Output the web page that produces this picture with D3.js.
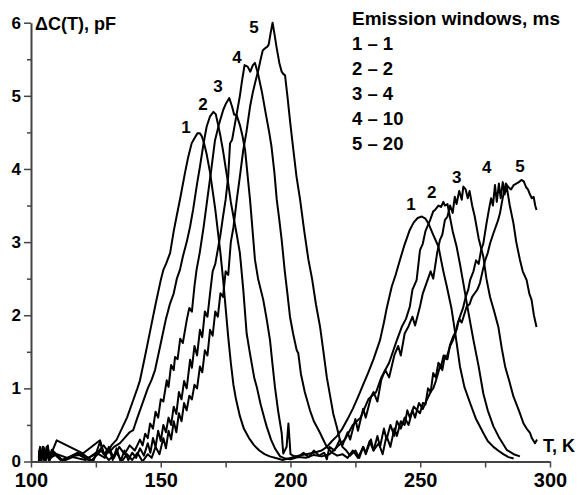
<!DOCTYPE html>
<html><head><meta charset="utf-8">
<script src="https://cdn.jsdelivr.net/npm/d3@7/dist/d3.min.js"></script>
<style>
body{margin:0;background:#fff;}
text{font-family:"Liberation Sans",Arial,sans-serif;font-weight:bold;fill:#000;}
</style></head>
<body>
<svg id="c" width="583" height="495"></svg>
<script>
// ---- data ----
const xTicksMajor = [100, 150, 200, 250, 300];
const xTicksMinor = [125, 175, 225, 275];
const yTicksMajor = [0, 1, 2, 3, 4, 5, 6];
const yTicksMinor = [0.5, 1.5, 2.5, 3.5, 4.5, 5.5];
const seriesNames = ["1", "2", "3", "4", "5"];
const legendTitle = "Emission windows, ms";
const legendRows = ["1 \u2013 1", "2 \u2013 2", "3 \u2013 4", "4 \u2013 10", "5 \u2013 20"];

const curve1 = [[103,0.05],[103.5,0.2],[104,0.02],[105,0.18],[105.5,0.03],[106.5,0.22],[107,0.05],[108,0.12],[109.9,0.29],[120,0.11],[126.6,0.29],[128,0.12],[129,0.1],[131,0.22],[133,0.3],[135,0.45],[137,0.6],[139,0.8],[141,1.0],[142,1.11],[144,1.45],[146,1.8],[148,2.15],[150,2.48],[151,2.62],[152,2.7],[153.6,2.85],[155,3.15],[156.1,3.35],[157.5,3.6],[159.3,3.94],[160.5,4.15],[161.9,4.35],[163,4.42],[164.2,4.49],[165,4.49],[165.8,4.45],[166.7,4.35],[167.7,4.2],[169,3.95],[170,3.7],[171,3.45],[172,3.15],[173,2.85],[174,2.5],[175,2.1],[176,1.7],[177,1.35],[178,1.05],[179,0.85],[180.5,0.62],[182,0.45],[184,0.32],[186,0.22],[188,0.15],[190,0.1],[192,0.07],[195,0.04],[197,0.02],[200,0.05],[203,0.08],[206,0.1],[209,0.12],[212,0.15],[214,0.2],[216,0.28],[218,0.35],[220,0.45],[222,0.58],[224,0.72],[226,0.88],[228,1.05],[230,1.22],[232,1.4],[234.5,1.66],[236,1.9],[237.1,2.1],[239,2.39],[240.5,2.55],[242.2,2.76],[244,2.97],[246,3.17],[247.5,3.27],[249,3.33],[250.6,3.35],[252,3.32],[253.1,3.26],[255,3.1],[257,2.94],[258.9,2.6],[260.2,2.4],[262,2.1],[263.5,1.75],[265.3,1.3],[267,1.02],[269.2,0.8],[271.5,0.58],[274.3,0.39],[276,0.28],[278.2,0.2],[280,0.15],[282,0.1],[284,0.06],[286,0.04]];

const curve2 = [[103,0.1],[104,0.0],[104.5,0.15],[105.5,0.02],[106.5,0.18],[107.5,0.05],[110,0.1],[114,0.05],[118,0.12],[122,0.05],[125,0.1],[128,0.22],[130,0.12],[132,0.2],[134.3,0.25],[136,0.32],[138,0.4],[139.4,0.43],[141,0.6],[142,0.7],[143.5,0.85],[145,1.0],[146.5,1.12],[147.8,1.25],[149,1.45],[150.5,1.7],[152,1.95],[153.5,2.15],[155,2.3],[156.2,2.5],[157.4,2.62],[158.5,2.8],[160,3.0],[161.3,3.21],[162.5,3.45],[164,3.8],[165.1,4.03],[166.5,4.35],[167.7,4.58],[169,4.72],[170.3,4.78],[171.2,4.75],[172,4.62],[173,4.45],[174,4.25],[175,4.02],[176,3.8],[177,3.55],[178,3.35],[179.3,3.1],[180.5,2.85],[181.8,2.35],[183.1,1.75],[184.5,1.45],[186,1.15],[187,1.02],[188.5,0.78],[190,0.58],[190.8,0.48],[192.5,0.3],[194,0.18],[196,0.07],[198,0.04],[200,0.03],[203,0.06],[206,0.05],[209,0.09],[212,0.07],[215,0.1],[218,0.2],[221,0.3],[224,0.5],[227,0.6],[230,0.85],[233,0.95],[235,1.15],[238,1.35],[241,1.66],[243,1.85],[244.5,1.95],[246,2.12],[247,2.35],[248.6,2.48],[249.9,2.89],[251,2.98],[252,3.15],[253.8,3.3],[255,3.42],[255.7,3.44],[257,3.5],[258,3.48],[258.9,3.55],[259.5,3.5],[260.5,3.52],[261.4,3.35],[262.5,3.15],[264,2.94],[265.3,2.7],[266.6,2.44],[268.5,2.05],[270.5,1.66],[272.5,1.3],[274.3,0.93],[276,0.7],[278.2,0.48],[280.5,0.32],[283.3,0.16],[286,0.1],[288.4,0.07]];

const curve3 = [[103,0.15],[103.7,0.0],[104.5,0.2],[105.2,0.05],[106,0.12],[107,0.0],[108,0.16],[112,0.02],[117,0.08],[120,0.1],[124,0.0],[126.6,0.27],[128,0.1],[130,0.18],[132,0.05],[134,0.2],[136,0.1],[138,0.22],[140,0.15],[142,0.3],[143,0.22],[144,0.38],[145,0.32],[145.9,0.52],[147,0.45],[148,0.68],[149,0.6],[150,0.85],[151,0.82],[152.3,1.11],[153,1.02],[154,1.32],[155,1.25],[155.5,1.43],[156.5,1.4],[157.5,1.68],[158.5,1.62],[160,1.93],[161,2.1],[162,2.05],[163,2.4],[163.8,2.62],[165,2.85],[166.5,3.2],[168,3.6],[169.5,4.0],[170.9,4.39],[172.5,4.62],[174.1,4.81],[175.2,4.9],[176.4,4.97],[177.5,4.85],[178.3,4.74],[179.2,4.74],[180.5,4.6],[181.5,4.45],[182.5,4.26],[183.5,3.9],[184.4,3.58],[185.4,3.15],[186.3,2.76],[187.5,2.5],[189.5,2.21],[190.8,1.95],[192.1,1.66],[193,1.35],[194,1.02],[195.2,0.7],[196.6,0.39],[197.2,0.11],[198.5,0.2],[199.2,0.52],[200,0.1],[201,0.08],[203,0.06],[205,0.12],[207,0.06],[209,0.15],[211,0.08],[213,0.12],[214,0.03],[215,0.2],[217,0.15],[219,0.3],[220,0.22],[222,0.4],[223,0.3],[225,0.58],[226,0.42],[228,0.72],[229,0.6],[231,0.88],[232,0.95],[233.5,0.82],[235,1.12],[236.5,1.25],[238,1.15],[240,1.45],[241.5,1.58],[242.5,1.45],[244,1.75],[245.5,1.85],[247,1.98],[248,1.86],[249.9,2.12],[251,2.3],[252.5,2.45],[254,2.6],[255,2.5],[255.7,2.66],[256.5,2.85],[257.6,3.03],[258.5,3.1],[259.5,3.3],[260.5,3.35],[261.5,3.5],[262.5,3.4],[263.3,3.62],[264,3.52],[265,3.7],[266,3.58],[266.6,3.76],[267.5,3.72],[268.3,3.6],[269,3.7],[270,3.5],[271,3.35],[272.5,3.05],[274.3,2.8],[275.5,2.5],[276.9,2.25],[278.5,2.05],[280.1,1.84],[281.4,1.55],[282.7,1.3],[284.3,1.1],[285.9,0.89],[288,0.7],[289.8,0.52],[291,0.45],[292.3,0.39],[293,0.32],[294.2,0.25],[295,0.3]];

const curve4 = [[103,0.0],[103.4,0.18],[104,0.04],[104.8,0.2],[105.6,0.0],[106.4,0.15],[107.2,0.02],[108.5,0.12],[112,0.0],[116,0.06],[121,0.02],[125,0.12],[128.5,0.05],[130,0.2],[131.5,0.02],[133,0.18],[134.5,0.0],[136,0.15],[137.5,0.02],[139,0.12],[140.5,0.05],[142,0.18],[143.5,0.08],[145,0.25],[146,0.12],[147,0.32],[148,0.2],[149,0.42],[150,0.28],[151,0.5],[152,0.4],[153,0.6],[154,0.5],[155,0.75],[156,0.65],[157,0.95],[158,0.85],[159,1.1],[160,1.0],[161.3,1.39],[162,1.28],[163,1.58],[164,1.45],[165.1,1.8],[166,1.7],[167,2.05],[168,1.98],[169,2.3],[170,2.6],[171,2.7],[172,2.9],[173,3.1],[174,3.35],[175,3.58],[176,3.9],[176.7,4.35],[177.5,4.4],[178.5,4.6],[179.5,4.8],[180.5,5.0],[181.3,5.2],[182.3,5.42],[183.5,5.4],[184.5,5.33],[185.5,5.42],[186.3,5.45],[187.5,5.3],[189,5.05],[190.5,4.75],[191.8,4.5],[192.7,4.3],[193.8,3.95],[194.7,3.58],[195.7,3.3],[196.6,3.03],[197.8,2.6],[198.8,2.3],[199.8,1.98],[201,1.75],[202.4,1.52],[203,1.48],[204,1.2],[205.5,0.95],[207.5,0.7],[209,0.55],[210.5,0.45],[211.4,0.39],[213,0.27],[214,0.2],[216,0.12],[218,0.08],[220,0.1],[222,0.05],[224,0.15],[226,0.05],[228,0.2],[229,0.1],[231,0.3],[232,0.15],[234,0.25],[235.5,0.1],[237,0.35],[238.5,0.2],[240,0.45],[241,0.35],[242.5,0.55],[244,0.5],[245,0.7],[246,0.6],[247.5,0.75],[249.9,0.66],[251,0.8],[252,0.78],[253,1.0],[254,0.95],[255,1.21],[256,1.15],[257,1.35],[258,1.3],[259,1.45],[260,1.4],[261.4,1.57],[262.5,1.65],[263.5,1.75],[264.5,1.9],[265.3,1.98],[266.5,2.1],[267.5,2.25],[268.5,2.35],[269.2,2.48],[270.5,2.6],[271.5,2.75],[272.5,2.7],[273.5,2.9],[274.3,2.98],[275.5,3.25],[276.5,3.45],[277.3,3.6],[278,3.5],[278.8,3.78],[279.5,3.55],[280.3,3.8],[281,3.6],[281.8,3.82],[282.5,3.65],[283.3,3.76],[284.5,3.5],[285.9,3.26],[287,3.0],[288.4,2.76],[289.5,2.6],[291,2.48],[292,2.3],[292.9,2.21],[293.8,2.0],[294.8,1.84]];

const curve5 = [[103,0.1],[103.6,0.0],[104.3,0.16],[105,0.02],[106,0.2],[107,0.04],[108,0.14],[112,0.02],[118,0.1],[123,0.0],[127,0.15],[130,0.02],[133,0.12],[135,0.0],[137,0.1],[139,0.02],[141,0.12],[143,0.0],[145,0.1],[146.5,0.05],[148,0.2],[149.5,0.1],[151,0.32],[152,0.18],[153,0.42],[154,0.3],[155,0.55],[156,0.4],[157,0.66],[158,0.55],[159,0.8],[160,0.7],[161,0.9],[162,0.85],[163,1.05],[164,1.0],[165.1,1.3],[166,1.22],[167,1.52],[168,1.45],[169,1.8],[170,1.72],[171,2.05],[172,1.98],[173,2.3],[174,2.25],[175,2.6],[176,2.55],[177,3.0],[178,3.2],[179.3,3.58],[180.5,3.9],[181.8,4.26],[183,4.5],[184.4,4.85],[185.5,5.05],[186.5,5.2],[187.6,5.35],[188.5,5.5],[189.3,5.62],[190.2,5.65],[191,5.67],[191.6,5.7],[192.3,5.85],[193.1,6.0],[193.8,5.85],[194.7,5.65],[195.7,5.45],[196.6,5.33],[197.2,5.3],[197.9,5.28],[198.8,5.0],[200,4.6],[201.1,4.26],[202.3,3.9],[203.7,3.58],[205.3,3.15],[206.9,2.76],[208.3,2.5],[209.8,2.15],[211.4,1.84],[212.7,1.5],[214,1.15],[215.5,0.85],[216.5,0.65],[217.8,0.48],[219,0.3],[220,0.2],[221.5,0.15],[223,0.08],[225,0.15],[226.5,0.05],[228,0.2],[229,0.12],[230.5,0.28],[232,0.15],[233.5,0.35],[234.5,0.2],[236,0.45],[237,0.3],[238.5,0.5],[240,0.35],[241,0.55],[242.5,0.45],[244,0.6],[245.5,0.5],[247,0.7],[248,0.6],[249.5,0.8],[251,0.72],[252.5,0.84],[254,0.95],[255,1.0],[256,1.1],[257.6,1.3],[258.5,1.25],[259.5,1.45],[260.5,1.4],[261.5,1.6],[262.7,1.71],[264,1.8],[265,1.95],[266,1.9],[267.9,2.12],[269,2.15],[270,2.25],[271,2.3],[272,2.35],[273,2.44],[274,2.6],[275,2.75],[276,2.85],[276.9,2.98],[278,3.1],[279,3.2],[280,3.3],[280.7,3.39],[281.5,3.55],[282.3,3.7],[283,3.8],[284,3.75],[285,3.72],[286,3.78],[287,3.8],[288,3.82],[289,3.85],[289.9,3.83],[290.8,3.75],[291.5,3.72],[292.3,3.65],[293,3.6],[293.7,3.62],[294.3,3.5],[294.8,3.44]];

const curves = [curve1, curve2, curve3, curve4, curve5];

// ---- chart ----
const svg = d3.select("#c");
const x = d3.scaleLinear().domain([100, 300]).range([31, 550]);
const y = d3.scaleLinear().domain([0, 6]).range([461.5, 22.7]);

const line = d3.line().x(d => x(d[0])).y(d => y(d[1]));
svg.append("g").selectAll("path").data(curves).join("path")
  .attr("d", line).attr("fill", "none").attr("stroke", "#000")
  .attr("stroke-width", 2).attr("stroke-linejoin", "round");

// x axis
const gx = svg.append("g").attr("transform", `translate(0,${y(0)})`)
  .call(d3.axisBottom(x).tickValues(xTicksMajor.concat(xTicksMinor)).tickSize(6).tickSizeOuter(0)
    .tickFormat(d => xTicksMajor.includes(d) ? d : ""));
gx.select(".domain").attr("stroke", "#444").attr("stroke-width", 2);
gx.selectAll(".tick line").attr("stroke", "#444").attr("stroke-width", 1.5);
gx.selectAll(".tick text").attr("font-size", 20).attr("font-family", "Liberation Sans, Arial, sans-serif").attr("font-weight", "bold").attr("fill", "#000").attr("dy", "0.8em");

// y axis
const gy = svg.append("g").attr("transform", `translate(${x(100)},0)`)
  .call(d3.axisLeft(y).tickValues(yTicksMajor).tickSize(7).tickPadding(3).tickSizeOuter(0).tickFormat(d3.format("d")));
gy.select(".domain").attr("stroke", "#444").attr("stroke-width", 2);
gy.selectAll(".tick line").attr("stroke", "#444").attr("stroke-width", 1.5);
gy.selectAll(".tick text").attr("font-size", 17).attr("font-family", "Liberation Sans, Arial, sans-serif").attr("font-weight", "bold").attr("fill", "#000");
const gym = svg.append("g").attr("transform", `translate(${x(100)},0)`)
  .call(d3.axisLeft(y).tickValues(yTicksMinor).tickSize(4).tickSizeOuter(0).tickFormat(""));
gym.select(".domain").remove();
gym.selectAll(".tick line").attr("stroke", "#444").attr("stroke-width", 1.5);

// axis titles
svg.append("text").attr("x", 35).attr("y", 30).attr("font-size", 18).text("\u0394C(T), pF");
svg.append("text").attr("x", 543).attr("y", 452).attr("font-size", 18).text("T, K");

// curve labels
const lab1 = [[186,133],[203,110],[218,91.5],[237,63],[254,33]];
const lab2 = [[411,210],[431.7,198],[456.7,183],[486.7,173],[520,171.5]];
[lab1, lab2].forEach(pos => {
  svg.append("g").selectAll("text").data(seriesNames).join("text")
    .attr("x", (d, i) => pos[i][0]).attr("y", (d, i) => pos[i][1])
    .attr("text-anchor", "middle").attr("font-size", 17).text(d => d);
});

// legend
svg.append("text").attr("x", 352).attr("y", 25).attr("font-size", 19).text(legendTitle);
svg.append("g").selectAll("text").data(legendRows).join("text")
  .attr("x", 352).attr("y", (d, i) => 50 + i * 25).attr("font-size", 18.5).text(d => d);
</script>
</body></html>
